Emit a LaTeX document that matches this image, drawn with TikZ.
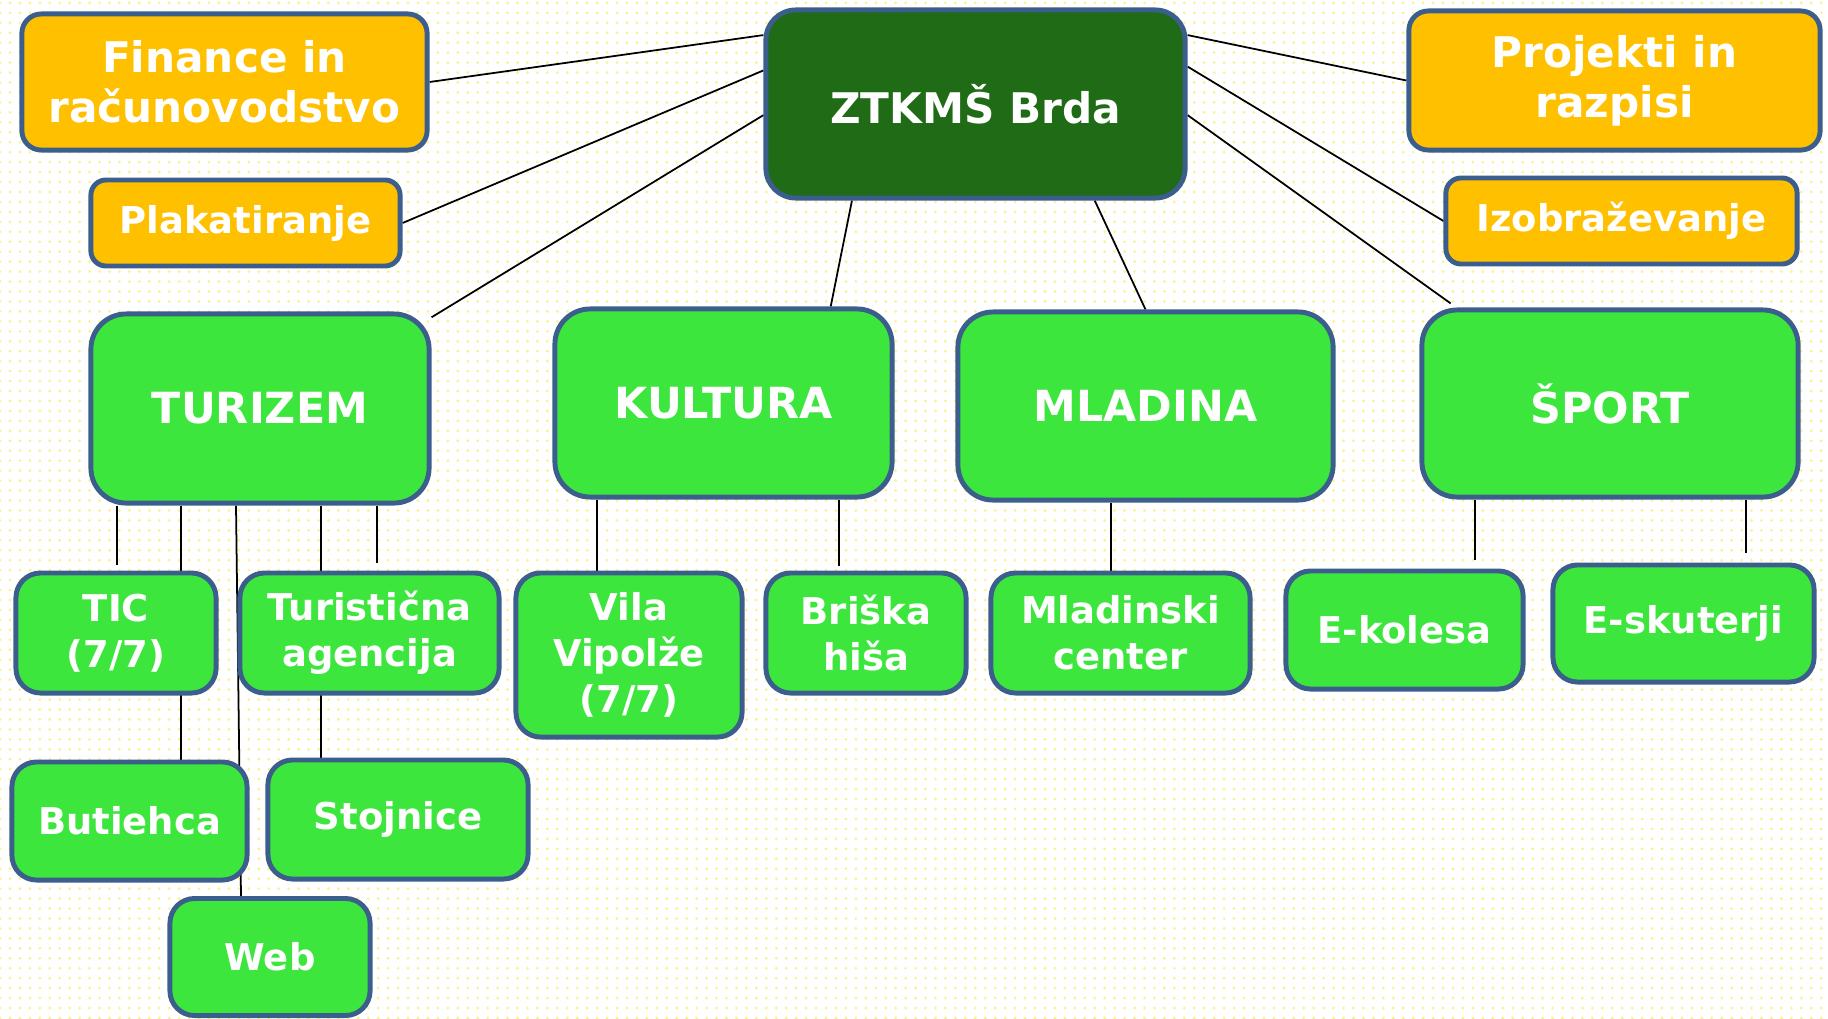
\documentclass[tikz,border=0pt]{standalone}
\usepackage{fontspec}
\setmainfont{DejaVu Sans}
\usetikzlibrary{backgrounds,patterns.meta}

\definecolor{pikice}{RGB}{250,242,150}
\definecolor{rob}{RGB}{59,94,140}
\definecolor{oranzna}{RGB}{255,192,0}
\definecolor{zelena}{RGB}{61,230,61}
\definecolor{temnozelena}{RGB}{32,107,22}

\tikzset{
  okvir/.style={draw=rob, line width=1.4pt, text=white, align=center, inner sep=0pt},
  headbox/.style={okvir, fill=temnozelena, rounded corners=8.5pt, font=\bfseries\fontsize{12}{14.2}\selectfont},
  staffbox/.style={okvir, fill=oranzna, rounded corners=5.5pt, font=\bfseries\fontsize{12}{14.2}\selectfont},
  smallstaff/.style={okvir, fill=oranzna, rounded corners=4.3pt, font=\bfseries\fontsize{10.5}{13}\selectfont},
  areabox/.style={okvir, fill=zelena, rounded corners=10pt, font=\bfseries\fontsize{12.2}{14.2}\selectfont},
  taskbox/.style={okvir, fill=zelena, rounded corners=7pt, font=\bfseries\fontsize{10.5}{13}\selectfont},
  veza/.style={draw=black, line width=0.5pt}
}

\begin{document}
\begin{tikzpicture}[x=0.01cm,y=-0.01cm]
\useasboundingbox (0,0) rectangle (1828,1018);
% vodstvo
\node[headbox, minimum width=4.19cm, minimum height=1.88cm] (root) at (975.5,104) {ZTKMŠ Brda};
\node[staffbox, minimum width=4.05cm, minimum height=1.36cm] (fin) at (224.5,82) {Finance in\\računovodstvo};
\node[staffbox, minimum width=4.11cm, minimum height=1.39cm] (proj) at (1614.5,80.5) {Projekti in\\razpisi};
\node[smallstaff, minimum width=3.09cm, minimum height=0.86cm] (plak) at (245.5,223) {Plakatiranje};
\node[smallstaff, minimum width=3.51cm, minimum height=0.86cm] (izob) at (1621.5,221) {Izobraževanje};
% podrocja
\node[areabox, minimum width=3.38cm, minimum height=1.89cm] (turizem) at (260,408.5) {TURIZEM};
\node[areabox, minimum width=3.37cm, minimum height=1.88cm] (kultura) at (723.5,403) {KULTURA};
\node[areabox, minimum width=3.75cm, minimum height=1.88cm] (mladina) at (1145.5,406) {MLADINA};
\node[areabox, minimum width=3.76cm, minimum height=1.87cm] (sport) at (1610,403.5) {ŠPORT};
% enote
\node[taskbox, minimum width=2.00cm, minimum height=1.20cm] (tic) at (116,633) {TIC\\(7/7)};
\node[taskbox, minimum width=2.59cm, minimum height=1.20cm] (agencija) at (369.5,633) {Turistična\\agencija};
\node[taskbox, minimum width=2.26cm, minimum height=1.64cm] (vila) at (629,655) {Vila\\Vipolže\\(7/7)};
\node[taskbox, minimum width=2.00cm, minimum height=1.20cm] (briska) at (866,633) {Briška\\hiša};
\node[taskbox, minimum width=2.59cm, minimum height=1.20cm] (mcenter) at (1120.5,633) {Mladinski\\center};
\node[taskbox, minimum width=2.37cm, minimum height=1.18cm] (ekolesa) at (1404.5,630) {E-kolesa};
\node[taskbox, minimum width=2.61cm, minimum height=1.17cm] (eskuterji) at (1683.5,623.5) {E-skuterji};
\node[taskbox, minimum width=2.35cm, minimum height=1.18cm] (butiehca) at (129.5,821) {Butiehca};
\node[taskbox, minimum width=2.60cm, minimum height=1.19cm] (stojnice) at (398,819.5) {Stojnice};
\node[taskbox, minimum width=2.00cm, minimum height=1.17cm] (web) at (270,957) {Web};

\coordinate (t1) at (117,0);
\coordinate (t2) at (181,0);
\coordinate (t3) at (236,0);
\coordinate (t3b) at (241,0);
\coordinate (t4) at (321,0);
\coordinate (t5) at (377,0);
\coordinate (k1) at (597,0);
\coordinate (k2) at (839,0);
\coordinate (m1) at (1111,0);
\coordinate (s1) at (1475,0);
\coordinate (s2) at (1746,0);

\begin{scope}[on background layer]
  \fill[pattern={Dots[distance=2.83pt,radius=0.45pt]}, pattern color=pikice] (0,0) rectangle (1828,1018);
  \draw[veza] (root.162) -- (fin.east);
  \draw[veza] (root.171) -- (plak.east);
  \draw[veza] (root.183) -- (turizem.28);
  \draw[veza] (root.218) -- (kultura.42);
  \draw[veza] (root.321) -- (mladina.north);
  \draw[veza] (root.18) -- (proj.west);
  \draw[veza] (root.10) -- (izob.west);
  \draw[veza, shorten >=2pt] (root.357) -- (sport.148);
  \draw[veza, shorten >=1.5pt] (turizem.south -| t1) -- (tic.north -| t1);
  \draw[veza] (turizem.south -| t2) -- (butiehca.north -| t2);
  \draw[veza] (turizem.south -| t3) -- (web.north -| t3b);
  \draw[veza] (turizem.south -| t4) -- (stojnice.north -| t4);
  \draw[veza, shorten >=2.2pt] (turizem.south -| t5) -- (agencija.north -| t5);
  \draw[veza] (kultura.south -| k1) -- (vila.north -| k1);
  \draw[veza, shorten >=1.2pt] (kultura.south -| k2) -- (briska.north -| k2);
  \draw[veza] (mladina.south -| m1) -- (mcenter.north -| m1);
  \draw[veza, shorten >=2.5pt] (sport.south -| s1) -- (ekolesa.north -| s1);
  \draw[veza, shorten >=2.8pt] (sport.south -| s2) -- (eskuterji.north -| s2);
\end{scope}
\end{tikzpicture}
\end{document}
